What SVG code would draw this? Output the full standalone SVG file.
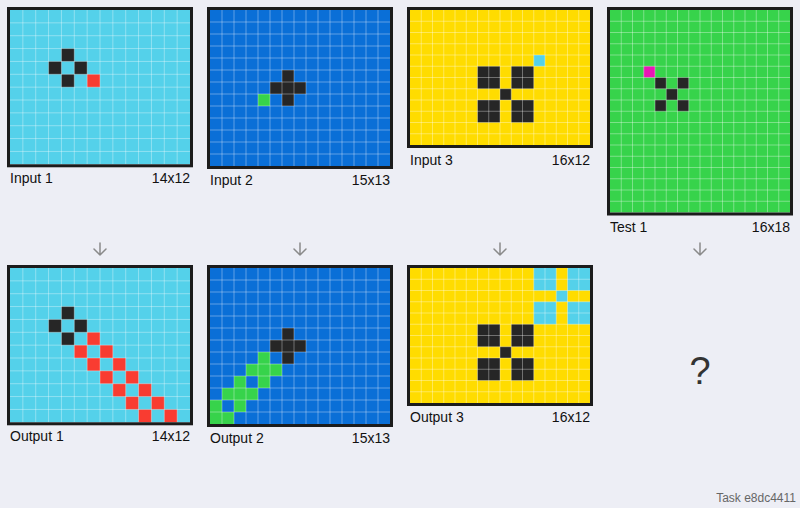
<svg xmlns="http://www.w3.org/2000/svg" width="800" height="508" viewBox="0 0 800 508">
<style>
.bg{fill:#EDEEF5}
.k{fill:#262626}.cy{fill:#54D1EA}.bl{fill:#0A6FD7}.rd{fill:#F93C31}.gr{fill:#37D34B}.ye{fill:#FFDC00}.mg{fill:#E817B5}
.gl{fill:none;stroke:#FFFFFF;stroke-opacity:0.35;stroke-width:1}
.frame{fill:none;stroke:#1C1C1C;stroke-width:3}
.lbl{font-family:"Liberation Sans",Arial,sans-serif;font-size:14px;fill:#111}
.r{text-anchor:end}
.conn{fill:none;stroke:#8A8A8A;stroke-width:1.5;stroke-linecap:round;stroke-linejoin:round}
</style>
<defs>
<path id="g14x12" class="gl" vector-effect="non-scaling-stroke" d="M1 0V12M2 0V12M3 0V12M4 0V12M5 0V12M6 0V12M7 0V12M8 0V12M9 0V12M10 0V12M11 0V12M12 0V12M13 0V12M0 1H14M0 2H14M0 3H14M0 4H14M0 5H14M0 6H14M0 7H14M0 8H14M0 9H14M0 10H14M0 11H14"/>
<path id="g15x13" class="gl" vector-effect="non-scaling-stroke" d="M1 0V13M2 0V13M3 0V13M4 0V13M5 0V13M6 0V13M7 0V13M8 0V13M9 0V13M10 0V13M11 0V13M12 0V13M13 0V13M14 0V13M0 1H15M0 2H15M0 3H15M0 4H15M0 5H15M0 6H15M0 7H15M0 8H15M0 9H15M0 10H15M0 11H15M0 12H15"/>
<path id="g16x12" class="gl" vector-effect="non-scaling-stroke" d="M1 0V12M2 0V12M3 0V12M4 0V12M5 0V12M6 0V12M7 0V12M8 0V12M9 0V12M10 0V12M11 0V12M12 0V12M13 0V12M14 0V12M15 0V12M0 1H16M0 2H16M0 3H16M0 4H16M0 5H16M0 6H16M0 7H16M0 8H16M0 9H16M0 10H16M0 11H16"/>
<path id="g16x18" class="gl" vector-effect="non-scaling-stroke" d="M1 0V18M2 0V18M3 0V18M4 0V18M5 0V18M6 0V18M7 0V18M8 0V18M9 0V18M10 0V18M11 0V18M12 0V18M13 0V18M14 0V18M15 0V18M0 1H16M0 2H16M0 3H16M0 4H16M0 5H16M0 6H16M0 7H16M0 8H16M0 9H16M0 10H16M0 11H16M0 12H16M0 13H16M0 14H16M0 15H16M0 16H16M0 17H16"/>
</defs>
<rect class="bg" x="0" y="0" width="800" height="508"/>

<g id="input1">
<g transform="translate(10 10) scale(12.857143)">
<rect class="cy" width="14" height="12"/>
<rect class="k" x="4" y="3" width="1" height="1"/><rect class="k" x="3" y="4" width="1" height="1"/><rect class="k" x="5" y="4" width="1" height="1"/><rect class="k" x="4" y="5" width="1" height="1"/>
<rect class="rd" x="6" y="5" width="1" height="1"/>
<use href="#g14x12"/>
</g>
<rect class="frame" x="8.5" y="8.5" width="183" height="157.29"/>
<text class="lbl" x="10" y="183.3">Input 1</text><text class="lbl r" x="190" y="183.3">14x12</text>
</g>

<g id="output1">
<g transform="translate(10 268) scale(12.857143)">
<rect class="cy" width="14" height="12"/>
<rect class="k" x="4" y="3" width="1" height="1"/><rect class="k" x="3" y="4" width="1" height="1"/><rect class="k" x="5" y="4" width="1" height="1"/><rect class="k" x="4" y="5" width="1" height="1"/>
<rect class="rd" x="6" y="5" width="1" height="1"/>
<rect class="rd" x="5" y="6" width="1" height="1"/><rect class="rd" x="7" y="6" width="1" height="1"/>
<rect class="rd" x="6" y="7" width="1" height="1"/><rect class="rd" x="8" y="7" width="1" height="1"/>
<rect class="rd" x="7" y="8" width="1" height="1"/><rect class="rd" x="9" y="8" width="1" height="1"/>
<rect class="rd" x="8" y="9" width="1" height="1"/><rect class="rd" x="10" y="9" width="1" height="1"/>
<rect class="rd" x="9" y="10" width="1" height="1"/><rect class="rd" x="11" y="10" width="1" height="1"/>
<rect class="rd" x="10" y="11" width="1" height="1"/><rect class="rd" x="12" y="11" width="1" height="1"/>
<use href="#g14x12"/>
</g>
<rect class="frame" x="8.5" y="266.5" width="183" height="157.29"/>
<text class="lbl" x="10" y="441.3">Output 1</text><text class="lbl r" x="190" y="441.3">14x12</text>
</g>

<g id="input2">
<g transform="translate(210 10) scale(12)">
<rect class="bl" width="15" height="13"/>
<rect class="k" x="6" y="5" width="1" height="1"/><rect class="k" x="5" y="6" width="3" height="1"/><rect class="k" x="6" y="7" width="1" height="1"/>
<rect class="gr" x="4" y="7" width="1" height="1"/>
<use href="#g15x13"/>
</g>
<rect class="frame" x="208.5" y="8.5" width="183" height="159"/>
<text class="lbl" x="210" y="185">Input 2</text><text class="lbl r" x="390" y="185">15x13</text>
</g>

<g id="output2">
<g transform="translate(210 268) scale(12)">
<rect class="bl" width="15" height="13"/>
<rect class="k" x="6" y="5" width="1" height="1"/><rect class="k" x="5" y="6" width="3" height="1"/><rect class="k" x="6" y="7" width="1" height="1"/>
<rect class="gr" x="4" y="7" width="1" height="1"/>
<rect class="gr" x="3" y="8" width="3" height="1"/>
<rect class="gr" x="2" y="9" width="1" height="1"/><rect class="gr" x="4" y="9" width="1" height="1"/>
<rect class="gr" x="1" y="10" width="3" height="1"/>
<rect class="gr" x="0" y="11" width="1" height="1"/><rect class="gr" x="2" y="11" width="1" height="1"/>
<rect class="gr" x="0" y="12" width="2" height="1"/>
<use href="#g15x13"/>
</g>
<rect class="frame" x="208.5" y="266.5" width="183" height="159"/>
<text class="lbl" x="210" y="443">Output 2</text><text class="lbl r" x="390" y="443">15x13</text>
</g>

<g id="input3">
<g transform="translate(410 10) scale(11.25)">
<rect class="ye" width="16" height="12"/>
<rect class="k" x="6" y="5" width="2" height="2"/><rect class="k" x="9" y="5" width="2" height="2"/>
<rect class="k" x="8" y="7" width="1" height="1"/>
<rect class="k" x="6" y="8" width="2" height="2"/><rect class="k" x="9" y="8" width="2" height="2"/>
<rect class="cy" x="11" y="4" width="1" height="1"/>
<use href="#g16x12"/>
</g>
<rect class="frame" x="408.5" y="8.5" width="183" height="138"/>
<text class="lbl" x="410" y="164.5">Input 3</text><text class="lbl r" x="590" y="164.5">16x12</text>
</g>

<g id="output3">
<g transform="translate(410 268) scale(11.25)">
<rect class="ye" width="16" height="12"/>
<rect class="k" x="6" y="5" width="2" height="2"/><rect class="k" x="9" y="5" width="2" height="2"/>
<rect class="k" x="8" y="7" width="1" height="1"/>
<rect class="k" x="6" y="8" width="2" height="2"/><rect class="k" x="9" y="8" width="2" height="2"/>
<rect class="cy" x="11" y="0" width="2" height="2"/><rect class="cy" x="14" y="0" width="2" height="2"/>
<rect class="cy" x="13" y="2" width="1" height="1"/>
<rect class="cy" x="11" y="3" width="2" height="2"/><rect class="cy" x="14" y="3" width="2" height="2"/>
<use href="#g16x12"/>
</g>
<rect class="frame" x="408.5" y="266.5" width="183" height="138"/>
<text class="lbl" x="410" y="422">Output 3</text><text class="lbl r" x="590" y="422">16x12</text>
</g>

<g id="test1">
<g transform="translate(610 10) scale(11.25)">
<rect class="gr" width="16" height="18"/>
<rect class="mg" x="3" y="5" width="1" height="1"/>
<rect class="k" x="4" y="6" width="1" height="1"/><rect class="k" x="6" y="6" width="1" height="1"/>
<rect class="k" x="5" y="7" width="1" height="1"/>
<rect class="k" x="4" y="8" width="1" height="1"/><rect class="k" x="6" y="8" width="1" height="1"/>
<use href="#g16x18"/>
</g>
<rect class="frame" x="608.5" y="8.5" width="183" height="205.5"/>
<text class="lbl" x="610" y="231.5">Test 1</text><text class="lbl r" x="790" y="231.5">16x18</text>
</g>

<g id="answer">
<text x="700" y="384" text-anchor="middle" font-family="Liberation Sans, Arial, sans-serif" font-size="38" fill="#333">?</text>
</g>

<g id="connectors">
<path class="conn" d="M100 243V255M94 249L100 255L106 249"/>
<path class="conn" d="M300 243V255M294 249L300 255L306 249"/>
<path class="conn" d="M500 243V255M494 249L500 255L506 249"/>
<path class="conn" d="M700 243V255M694 249L700 255L706 249"/>
</g>

<text x="796" y="501.5" text-anchor="end" font-family="Liberation Sans, Arial, sans-serif" font-size="12" fill="#666">Task e8dc4411</text>
</svg>
